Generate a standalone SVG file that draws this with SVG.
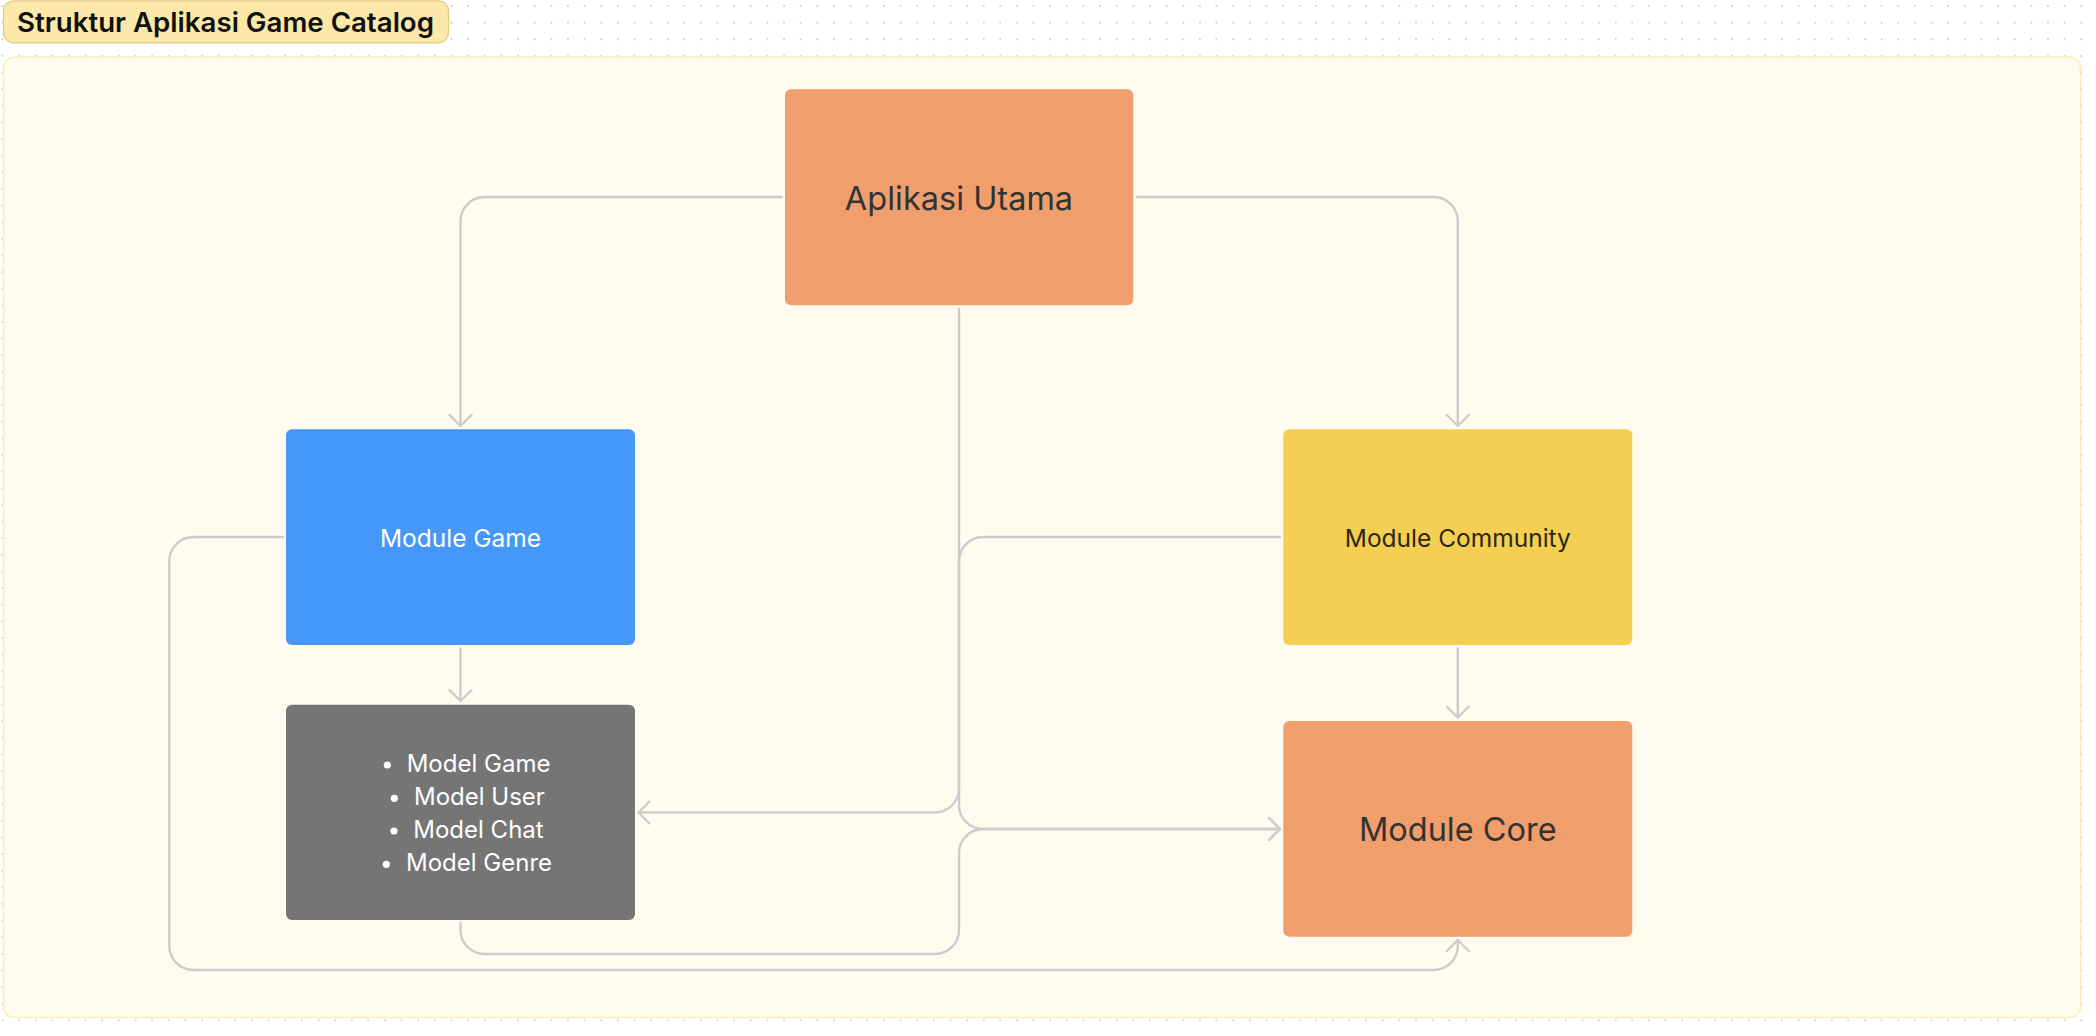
<svg xmlns="http://www.w3.org/2000/svg" width="2096" height="1036" viewBox="0 0 2096 1036">
<defs>
<pattern id="dots" patternUnits="userSpaceOnUse" x="1.5" y="5" width="16.63" height="16.63">
<circle cx="1" cy="1" r="1" fill="#c9c9c9"/>
</pattern>
<marker id="arr" markerUnits="userSpaceOnUse" markerWidth="30" markerHeight="30" viewBox="-15 -15 30 30" refX="0" refY="0" orient="auto">
<path d="M-11,-11 L0,0 L-11,11" fill="none" stroke="#cccccc" stroke-width="2.4" stroke-linecap="round" stroke-linejoin="round"/>
</marker>
<style>
.lbl{font-family:Inter,"Noto Sans","Liberation Sans",sans-serif;text-anchor:middle}
.big{font-size:32.5px;fill:#333333}
.mid{font-size:24.5px}
.list{font-family:Inter,"Noto Sans","Liberation Sans",sans-serif;font-size:24px;fill:#ffffff}
.node{stroke:none}
.conn{fill:none;stroke:#cccccc;stroke-width:2.4;stroke-linecap:round;stroke-linejoin:round}
</style>
</defs>
<rect x="0" y="0" width="2096" height="1036" fill="#ffffff"/>
<rect x="0" y="0" width="2096" height="1036" fill="url(#dots)"/>
<g id="group-container">
<rect x="3.5" y="57" width="2077" height="960.5" rx="11" fill="#fffcef" stroke="#fcecb4" stroke-width="1.5"/>
</g>
<g id="title">
<rect x="3.5" y="0.8" width="445" height="42" rx="10" fill="#fce8a8" stroke="#e4cb84" stroke-width="1.2"/>
<text x="17" y="32" font-family="Inter, 'Noto Sans', 'Liberation Sans', sans-serif" font-size="27.5" font-weight="600" fill="#111111" textLength="417" lengthAdjust="spacingAndGlyphs">Struktur Aplikasi Game Catalog</text>
</g>
<g id="connectors">
<path class="conn" d="M782,197 H484.5 A24,24 0 0 0 460.5,221 V426" marker-end="url(#arr)"/>
<path class="conn" d="M1137,197 H1433.8 A24,24 0 0 1 1457.8,221 V426" marker-end="url(#arr)"/>
<path class="conn" d="M460.5,648.5 V701" marker-end="url(#arr)"/>
<path class="conn" d="M1457.8,648.5 V717.5" marker-end="url(#arr)"/>
<path class="conn" d="M959,309 V805 A24,24 0 0 0 983,829 H1280" marker-end="url(#arr)"/>
<path class="conn" d="M1280,537 H983 A24,24 0 0 0 959,561 V788.5 A24,24 0 0 1 935,812.5 H638.5" marker-end="url(#arr)"/>
<path class="conn" d="M460.5,923 V930 A24,24 0 0 0 484.5,954 H935 A24,24 0 0 0 959,930 V853 A24,24 0 0 1 983,829 H1280" marker-end="url(#arr)"/>
<path class="conn" d="M283,537 H193.3 A24,24 0 0 0 169.3,561 V946 A24,24 0 0 0 193.3,970 H1433.8 A24,24 0 0 0 1457.8,946 V940" marker-end="url(#arr)"/>
</g>
<g id="node-aplikasi-utama">
<rect class="node" x="785" y="89.3" width="348.3" height="216" rx="6" fill="#f09f6c"/>
<text class="lbl big" x="959" y="210">Aplikasi Utama</text>
</g>
<g id="node-module-game">
<rect class="node" x="286" y="429.3" width="349" height="215.7" rx="6" fill="#4698f8"/>
<text class="lbl mid" x="460.5" y="546.7" fill="#ffffff">Module Game</text>
</g>
<g id="node-module-community">
<rect class="node" x="1283.3" y="429.3" width="349" height="215.7" rx="6" fill="#f5cf51"/>
<text class="lbl mid" x="1457.8" y="546.7" fill="#2b2816">Module Community</text>
</g>
<g id="node-models">
<rect class="node" x="286" y="704.7" width="349" height="215.3" rx="6" fill="#757575"/>
<circle cx="387.3" cy="765" r="3.6" fill="#ffffff"/>
<text class="list" x="406.7" y="771.7">Model Game</text>
<circle cx="394.3" cy="798.3" r="3.6" fill="#ffffff"/>
<text class="list" x="414" y="805">Model User</text>
<circle cx="394" cy="831" r="3.6" fill="#ffffff"/>
<text class="list" x="413.3" y="837.7">Model Chat</text>
<circle cx="386.3" cy="864.3" r="3.6" fill="#ffffff"/>
<text class="list" x="406" y="871">Model Genre</text>
</g>
<g id="node-module-core">
<rect class="node" x="1283.3" y="721" width="349" height="215.7" rx="6" fill="#f09f6c"/>
<text class="lbl big" x="1457.8" y="841">Module Core</text>
</g>
</svg>
